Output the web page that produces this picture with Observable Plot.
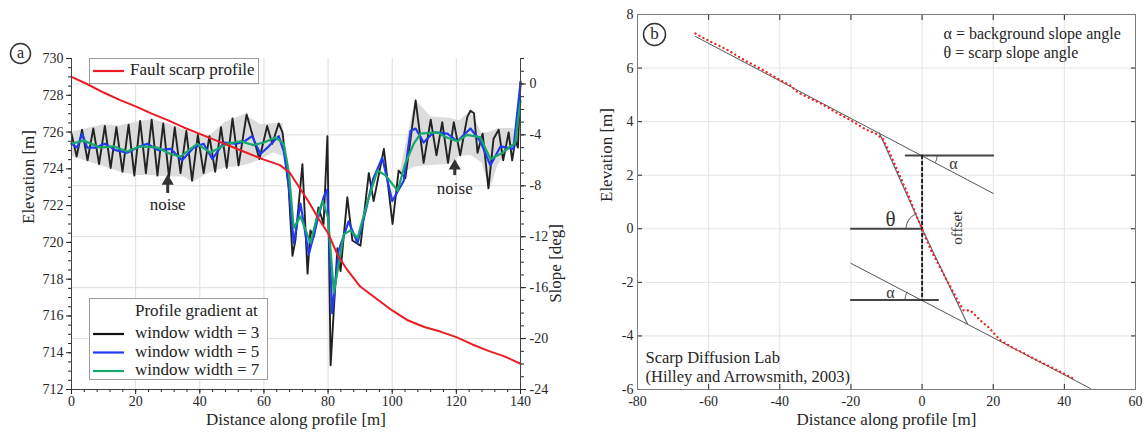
<!DOCTYPE html>
<html><head><meta charset="utf-8">
<script src="https://cdn.jsdelivr.net/npm/d3@7"></script>
<script src="https://cdn.jsdelivr.net/npm/@observablehq/plot@0.6"></script>
<style>
body{margin:0;background:#fff;}
#wrap{position:relative;width:1145px;height:433px;overflow:hidden;font-family:"Liberation Serif",serif;color:#222;}
#pa,#pb{position:absolute;top:0;}
#pa{left:0;} #pb{left:580px;}
.lg{position:absolute;background:#fff;border:1px solid #9c9c9c;box-sizing:border-box;font-size:17px;}
.lg .t{position:absolute;white-space:nowrap;line-height:18px;}
.lg svg{position:absolute;left:0;top:0;}
</style></head>
<body><div id="wrap"><div id="pa"></div><div id="pb"></div></div>
<script>
// ================= Panel (a) data =================
const xTicksA = [0, 20, 40, 60, 80, 100, 120, 140];
const elevTicks = [712, 714, 716, 718, 720, 722, 724, 726, 728, 730];
const slopeTicks = [-24, -20, -16, -12, -8, -4, 0];
// [distance m, elevation m]
const faultProfile = [[0,729.0],[5,728.6],[10,728.15],[15,727.75],[20,727.4],[25,727.0],[30,726.65],[35,726.25],[40,725.9],[45,725.55],[50,725.2],[55,724.85],[60,724.5],[65,724.2],[68,723.8],[71,723.0],[74,722.2],[77,721.3],[80,720.5],[83,719.3],[86,718.5],[90,717.6],[95,716.95],[100,716.3],[105,715.75],[110,715.4],[115,715.15],[120,714.85],[125,714.45],[130,714.1],[135,713.8],[140,713.4]];
// [distance m, slope deg]
const gradW3 = [[0,-3.9],[1.6,-5.7],[3.3,-3.6],[5.0,-6.0],[6.8,-3.5],[8.6,-6.3],[10.4,-3.3],[12.2,-6.6],[14.0,-3.4],[15.9,-6.9],[17.8,-3.2],[19.6,-7.2],[21.4,-2.9],[23.2,-7.0],[25.0,-2.8],[26.8,-7.2],[28.6,-3.1],[30.4,-7.3],[32.2,-3.4],[34.0,-7.0],[35.8,-3.7],[37.6,-7.6],[39.4,-4.0],[41.2,-7.0],[43.0,-4.1],[44.8,-6.9],[46.6,-3.4],[48.4,-6.6],[50.2,-2.7],[52.1,-6.4],[54.6,-2.4],[58.6,-5.9],[61.0,-3.3],[62.6,-4.7],[64.6,-3.1],[65.8,-3.8],[66.7,-5.8],[67.7,-8.1],[68.9,-13.5],[69.8,-12.3],[72.0,-6.3],[73.6,-14.9],[74.5,-11.5],[75.6,-12.0],[77.0,-9.7],[78.6,-11.0],[79.8,-4.1],[80.8,-22.1],[82.9,-12.9],[83.9,-14.7],[86.0,-8.9],[87.6,-12.3],[90.1,-12.7],[92.7,-7.0],[94.2,-9.2],[97.4,-5.1],[100.1,-11.0],[102.0,-6.8],[104.1,-7.4],[107.3,-1.3],[109.8,-6.2],[112.0,-2.8],[113.8,-5.6],[115.6,-3.0],[117.4,-6.2],[119.2,-3.0],[121.2,-5.6],[123.4,-2.6],[124.4,-2.1],[125.5,-2.3],[126.6,-5.4],[128.2,-3.9],[130.0,-8.2],[131.6,-4.3],[133.2,-3.6],[134.6,-6.0],[136.3,-3.8],[137.4,-6.0],[138.4,-4.4],[139.2,-5.0],[140,0.2]];
const gradW5 = [[0,-4.7],[1.8,-5.0],[3.3,-3.9],[4.9,-5.0],[7.5,-5.0],[10.4,-4.7],[13.7,-5.2],[17.4,-5.4],[20.5,-5.0],[23.6,-4.7],[27,-5.2],[30.9,-5.1],[34.5,-6.0],[38.1,-5.0],[41.2,-4.7],[43.9,-5.9],[47.5,-4.6],[51.5,-4.7],[54,-4.5],[56.3,-4.1],[58.9,-5.5],[61.5,-4.9],[64.6,-4.1],[66.2,-5.3],[67.7,-7.9],[69.3,-12.5],[71.4,-9.4],[74.0,-13.4],[76.6,-10.8],[78.6,-8.9],[79.7,-8.3],[81.3,-18.0],[83.3,-13.1],[86.4,-10.8],[89.2,-12.5],[91.7,-10.0],[94,-7.5],[96.9,-5.8],[100.0,-9.2],[103.6,-7.6],[105.7,-3.7],[107.3,-3.5],[109.8,-4.6],[112.9,-3.8],[117.2,-3.9],[120.3,-4.5],[124.4,-3.5],[127.5,-4.5],[130.6,-6.4],[133.8,-4.9],[137.8,-5.1],[140,0.1]];
const gradW7 = [[0,-4.7],[3.8,-4.45],[9.0,-5.0],[13.1,-4.9],[17.4,-5.3],[21.5,-4.9],[26.7,-5.0],[30.9,-5.5],[34,-5.7],[39.2,-4.7],[43.3,-5.4],[48.5,-4.7],[52.7,-4.5],[56.8,-4.8],[60,-4.6],[63.6,-4.2],[66.2,-4.7],[67.8,-7.0],[69.3,-11.3],[71.4,-10.4],[74.5,-12.5],[76.5,-10.5],[78.3,-9.2],[80,-10.5],[81.8,-16.4],[84.9,-11.8],[87,-11.5],[89.2,-12.1],[92,-9.5],[95.4,-6.8],[98,-7.2],[101.7,-8.4],[104,-6.3],[106.7,-4.7],[108.8,-3.9],[114,-3.8],[117,-4.2],[120.3,-4.5],[123.4,-4.0],[127.5,-4.2],[130.6,-5.9],[134.4,-5.4],[138.4,-4.6],[140,-1.3]];
// noise envelope [distance, upper slope, lower slope]
const noiseBandLeft = [[0,-3.8,-5.7],[5,-3.5,-6.1],[10,-3.2,-6.5],[15,-3.3,-6.9],[20,-3.0,-7.2],[25,-2.8,-7.2],[30,-3.1,-7.3],[35,-3.6,-7.3],[38,-3.9,-7.7],[43,-4.1,-7.0],[48,-3.0,-6.6],[54,-2.4,-6.4],[59,-3.2,-6.0],[63,-3.1,-5.4],[66,-3.1,-5.7]];
const noiseBandRight = [[102.5,-6.9,-7.1],[107.3,-1.2,-6.5],[112,-2.6,-6.4],[118,-2.7,-6.3],[121,-2.9,-5.7],[124.5,-2.1,-5.6],[128,-3.9,-6.2],[130.5,-3.8,-8.3],[133,-3.5,-6.4],[137,-3.5,-5.0],[139.5,-3.6,-5.0]];
// noise annotations: x, arrow tip, arrow base, label position (slope units)
const noiseNotes = [{x: 30, tip: -7.3, base: -8.6, label: -9.45}, {x: 119.5, tip: -6.1, base: -7.2, label: -8.25}];
const legendA1 = [{label: "Fault scarp profile", color: "#ec1c24"}];
const legendA2Title = "Profile gradient at";
const legendA2 = [{label: "window width = 3", color: "#111111"}, {label: "window width = 5", color: "#1f3cf0"}, {label: "window width = 7", color: "#17a86c"}];

// ================= Panel (b) data =================
const xTicksB = [-80, -60, -40, -20, 0, 20, 40, 60];
const yTicksB = [-6, -4, -2, 0, 2, 4, 6, 8];
const measuredProfile = [[-63.7,7.29],[-60,7.02],[-55,6.7],[-50,6.3],[-45,5.95],[-40,5.56],[-37,5.35],[-35,5.1],[-32,4.9],[-28,4.65],[-24,4.33],[-20,4.05],[-16,3.72],[-13,3.55],[-11,3.35],[-9.5,2.95],[-7,2.2],[-4,1.3],[-1,0.3],[2.5,-0.8],[6.5,-1.8],[10,-2.67],[11.7,-3.05],[13.6,-3.05],[16.4,-3.42],[18.7,-3.68],[22,-4.16],[25.7,-4.46],[28,-4.6],[31.3,-4.84],[35.3,-5.1],[39,-5.35],[42.6,-5.6]];
const upperSurface = [[-63.7,7.18],[20,1.32]];
const lowerSurface = [[-20,-1.29],[47.3,-5.96]];
const scarpFace = [[-12,3.58],[0,0],[12.8,-3.56]];
const refHorizontals = [[[-4.6,2.74],[20,2.74]], [[-20,0],[0,0]], [[-20,-2.66],[4.5,-2.66]]];
const offsetLine = [[0,2.74],[0,-2.66]];
const angleLabels = [{t: "α", x: 8.8, y: 2.42, size: 16}, {t: "θ", x: -8.9, y: 0.36, size: 21}, {t: "α", x: -8.9, y: -2.4, size: 16}, {t: "offset", x: 9.9, y: 0.04, size: 15, rot: -90}];
const noteB1 = "α = background slope angle\nθ = scarp slope angle";
const noteB2 = "Scarp Diffusion Lab\n(Hilley and Arrowsmith, 2003)";

// ================= helpers =================
const FONT = '"Liberation Serif", "Times New Roman", serif';
const fmt = d => String(d);
const toS = e => -24 + (e - 712) * 26 / 18;        // elevation -> slope axis space
const toE = s => 712 + (s + 24) * 18 / 26;
const X = d => d[0], Y = d => d[1];
const tickOnly = {fill: "none", label: null};

// ================= Panel (a) =================
const A = {w: 580, h: 433, l: 71, r: 60, t: 58, b: 44};
const plotA = Plot.plot({
  width: A.w, height: A.h,
  marginLeft: A.l, marginRight: A.r, marginTop: A.t, marginBottom: A.b,
  style: {fontFamily: FONT, fontSize: "14px", color: "#262626", background: "transparent"},
  x: {domain: [0, 140]},
  y: {domain: [-24, 2]},
  marks: [
    Plot.gridX(xTicksA.slice(1, -1), {stroke: "#dedede", strokeOpacity: 1}),
    Plot.gridY(slopeTicks.slice(1), {stroke: "#dedede", strokeOpacity: 1}),
    Plot.areaY(noiseBandLeft, {x: d => d[0], y1: d => d[2], y2: d => d[1], fill: "#d8d8d8", fillOpacity: 0.9}),
    Plot.areaY(noiseBandRight, {x: d => d[0], y1: d => d[2], y2: d => d[1], fill: "#d8d8d8", fillOpacity: 0.9}),
    Plot.line(gradW3, {x: X, y: Y, stroke: "#222", strokeWidth: 1.9}),
    Plot.line(gradW5, {x: X, y: Y, stroke: legendA2[1].color, strokeWidth: 2.2}),
    Plot.line(gradW7, {x: X, y: Y, stroke: legendA2[2].color, strokeWidth: 2.2}),
    Plot.line(faultProfile, {x: X, y: d => toS(d[1]), stroke: legendA1[0].color, strokeWidth: 2}),
    // noise arrows and labels
    Plot.ruleX(noiseNotes, {x: "x", y1: "base", y2: d => d.tip - 0.5, stroke: "#333", strokeWidth: 3}),
    Plot.dot(noiseNotes, {x: "x", y: d => d.tip - 0.35, symbol: "triangle", r: 4.5, fill: "#333"}),
    Plot.text(noiseNotes, {x: "x", y: "label", text: () => "noise", fontSize: 17, fill: "#222"}),
    // axis lines
    Plot.ruleX([0, 140], {stroke: "#444"}),
    Plot.ruleY([-24], {stroke: "#444"}),
    // left (elevation) axis
    Plot.axisY({anchor: "left", ticks: elevTicks.map(toS), tickFormat: d => String(Math.round(toE(d))), tickSize: 5, tickPadding: 3, label: null}),
    Plot.axisY({anchor: "left", ticks: d3.range(712, 730.01, 0.5).map(toS), tickSize: 3, ...tickOnly}),
    // right (slope) axis
    Plot.axisY({anchor: "right", ticks: slopeTicks, tickFormat: fmt, tickSize: 5, tickPadding: 4, label: null}),
    Plot.axisY({anchor: "right", ticks: d3.range(-24, 2.01, 1), tickSize: 3, ...tickOnly}),
    // bottom axis
    Plot.axisX({ticks: xTicksA, tickFormat: fmt, tickSize: 5, tickPadding: 2, label: null}),
    Plot.axisX({ticks: d3.range(0, 140.01, 4), tickSize: 3, ...tickOnly}),
    // titles
    Plot.text(["Elevation [m]"], {frameAnchor: "left", dx: -43, rotate: -90, text: d => d, fontSize: 17}),
    Plot.text(["Slope [deg]"], {frameAnchor: "right", dx: 35, rotate: -90, text: d => d, fontSize: 17}),
    Plot.text(["Distance along profile [m]"], {frameAnchor: "bottom", dy: 35, text: d => d, fontSize: 17}),
    // panel letter
    Plot.dot(["a"], {frameAnchor: "top-left", dx: -51, dy: -5, r: 10, stroke: "#333", fill: "white"}),
    Plot.text(["a"], {frameAnchor: "top-left", dx: -51, dy: -6, text: d => d, fontSize: 16, textAnchor: "middle", lineAnchor: "middle"})
  ]
});
document.getElementById("pa").appendChild(plotA);

// legends for panel (a)
function legendBox(left, top, w, h, title, items, firstRow, rowGap) {
  const box = document.createElement("div");
  box.className = "lg";
  Object.assign(box.style, {left: left + "px", top: top + "px", width: w + "px", height: h + "px"});
  const ns = "http://www.w3.org/2000/svg";
  const svg = document.createElementNS(ns, "svg");
  svg.setAttribute("width", w); svg.setAttribute("height", h);
  box.appendChild(svg);
  const textLeft = title ? 45 : 40;
  if (title) {
    const t = document.createElement("div");
    t.className = "t"; t.textContent = title;
    Object.assign(t.style, {left: textLeft + "px", top: (firstRow - 23 - 9) + "px"});
    box.appendChild(t);
  }
  items.forEach((it, i) => {
    const y = firstRow + i * rowGap;
    const ln = document.createElementNS(ns, "line");
    ln.setAttribute("x1", 3); ln.setAttribute("x2", 34);
    ln.setAttribute("y1", y); ln.setAttribute("y2", y);
    ln.setAttribute("stroke", it.color); ln.setAttribute("stroke-width", 2.2);
    svg.appendChild(ln);
    const t = document.createElement("div");
    t.className = "t"; t.textContent = it.label;
    Object.assign(t.style, {left: textLeft + "px", top: (y - 10) + "px"});
    box.appendChild(t);
  });
  document.getElementById("wrap").appendChild(box);
}
legendBox(89, 58, 170, 26, null, legendA1, 12, 0);
legendBox(89, 298, 179, 82, legendA2Title, legendA2, 35, 18.5);

// ================= Panel (b) =================
const B = {w: 565, h: 433, l: 57, r: 10, t: 14, b: 44};
const kx = (B.w - B.l - B.r) / 140, ky = (B.h - B.t - B.b) / 14;   // px per data unit
const bgSlope = (upperSurface[1][1] - upperSurface[0][1]) / (upperSurface[1][0] - upperSurface[0][0]);
const bgAng = Math.atan(Math.abs(bgSlope) * ky / kx) * 180 / Math.PI;
const scAng = Math.atan2(scarpFace[0][1] * ky, -scarpFace[0][0] * kx) * 180 / Math.PI;
function arc(id, x0, y0, r, a1, a2) {
  return d3.range(0, 17).map(i => {
    const t = (a1 + (a2 - a1) * i / 16) * Math.PI / 180;
    return {id, x: x0 + r * Math.cos(t) / kx, y: y0 + r * Math.sin(t) / ky};
  });
}
const arcs = [
  ...arc(0, offsetLine[0][0], offsetLine[0][1], 15, -bgAng, 0),
  ...arc(1, 0, 0, 16, 180 - scAng, 180),
  ...arc(2, offsetLine[1][0], offsetLine[1][1], 17, 180 - bgAng, 180)
];
const plotB = Plot.plot({
  width: B.w, height: B.h,
  marginLeft: B.l, marginRight: B.r, marginTop: B.t, marginBottom: B.b,
  style: {fontFamily: FONT, fontSize: "14px", color: "#262626", background: "transparent"},
  x: {domain: [-80, 60]},
  y: {domain: [-6, 8]},
  marks: [
    Plot.gridX(xTicksB, {stroke: "#e3e3e3", strokeOpacity: 1}),
    Plot.gridY(yTicksB, {stroke: "#e3e3e3", strokeOpacity: 1}),
    Plot.axisX({ticks: xTicksB, tickSize: -5, ...tickOnly}),
    Plot.axisX({ticks: xTicksB, tickSize: 0, tickPadding: 7, tickFormat: fmt, label: null}),
    Plot.axisX({anchor: "top", ticks: xTicksB, tickSize: -5, ...tickOnly}),
    Plot.axisY({ticks: yTicksB, tickSize: -5, ...tickOnly}),
    Plot.axisY({ticks: yTicksB, tickSize: 0, tickPadding: 4, tickFormat: fmt, label: null}),
    Plot.axisY({anchor: "right", ticks: yTicksB, tickSize: -5, ...tickOnly}),
    Plot.frame({stroke: "#7c7c7c"}),
    Plot.line(upperSurface, {x: X, y: Y, stroke: "#555", strokeWidth: 1}),
    Plot.line(lowerSurface, {x: X, y: Y, stroke: "#555", strokeWidth: 1}),
    Plot.line(scarpFace, {x: X, y: Y, stroke: "#5d6577", strokeWidth: 1.2}),
    Plot.line(refHorizontals.flatMap((seg, i) => seg.map(p => [p[0], p[1], i])), {x: X, y: Y, z: d => d[2], stroke: "#444", strokeWidth: 2}),
    Plot.line(offsetLine, {x: X, y: Y, stroke: "#222", strokeWidth: 2, strokeDasharray: "3,3"}),
    Plot.line(arcs, {x: "x", y: "y", z: "id", stroke: "#444", strokeWidth: 1}),
    Plot.line(measuredProfile, {x: X, y: Y, stroke: "#ee2222", strokeWidth: 2.3, strokeDasharray: "0.1,4.4", strokeLinecap: "round"}),
    Plot.text(angleLabels.filter(d => !d.rot), {x: "x", y: "y", text: "t", fontSize: d => d.size, fill: "#333"}),
    Plot.text(angleLabels.filter(d => d.rot), {x: "x", y: "y", text: "t", fontSize: 15, rotate: -90, fill: "#333"}),
    Plot.text([noteB1], {frameAnchor: "top-left", dx: 306, dy: 11, text: d => d, textAnchor: "start", lineAnchor: "top", lineHeight: 1.18, fontSize: 16}),
    Plot.text([noteB2], {frameAnchor: "bottom-left", dx: 8, dy: -8, text: d => d, textAnchor: "start", lineAnchor: "bottom", lineHeight: 1.15, fontSize: 16.5}),
    Plot.text(["Elevation [m]"], {frameAnchor: "left", dx: -31, rotate: -90, text: d => d, fontSize: 17}),
    Plot.text(["Distance along profile [m]"], {frameAnchor: "bottom", dy: 35, text: d => d, fontSize: 17}),
    Plot.dot(["b"], {frameAnchor: "top-left", dx: 17, dy: 20, r: 11, stroke: "#333", fill: "white"}),
    Plot.text(["b"], {frameAnchor: "top-left", dx: 17, dy: 19, text: d => d, fontSize: 17, textAnchor: "middle", lineAnchor: "middle"})
  ]
});
document.getElementById("pb").appendChild(plotB);
</script>
</body></html>
